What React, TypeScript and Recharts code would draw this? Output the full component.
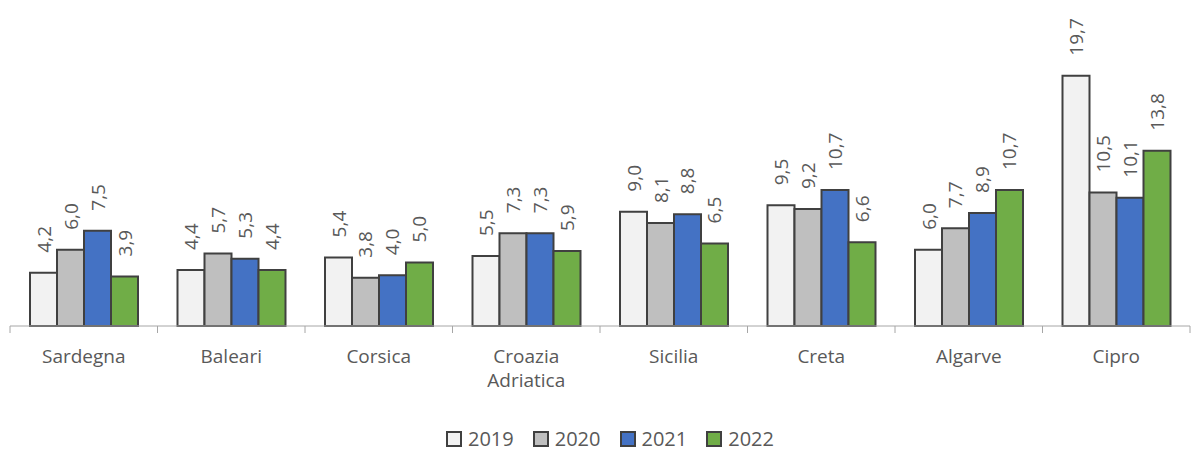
import React from 'react';
import { BarChart, Bar, XAxis, YAxis, Legend, LabelList } from 'recharts';

const categories = ['Sardegna', 'Baleari', 'Corsica', 'Croazia\nAdriatica', 'Sicilia', 'Creta', 'Algarve', 'Cipro'];
const v2019 = [4.2, 4.4, 5.4, 5.5, 9.0, 9.5, 6.0, 19.7];
const v2020 = [6.0, 5.7, 3.8, 7.3, 8.1, 9.2, 7.7, 10.5];
const v2021 = [7.5, 5.3, 4.0, 7.3, 8.8, 10.7, 8.9, 10.1];
const v2022 = [3.9, 4.4, 5.0, 5.9, 6.5, 6.6, 10.7, 13.8];

const series = [
  { key: 'y2019', name: '2019', color: '#f2f2f2' },
  { key: 'y2020', name: '2020', color: '#bfbfbf' },
  { key: 'y2021', name: '2021', color: '#4472c4' },
  { key: 'y2022', name: '2022', color: '#70ad47' },
];

const data = categories.map((c, i) => ({
  name: c,
  y2019: v2019[i],
  y2020: v2020[i],
  y2021: v2021[i],
  y2022: v2022[i],
}));

const FONT = '"Open Sans", sans-serif';
const TEXT = '#595959';
const BAND = 147.5;

const fmt = (v: number) => v.toFixed(1).replace('.', ',');

const BarLabel = (props: any) => {
  const { x, y, width, value } = props;
  const cx = x + width / 2;
  const cy = y - 20;
  return (
    <text
      x={cx}
      y={cy}
      transform={`rotate(-90 ${cx} ${cy})`}
      textAnchor="start"
      dominantBaseline="central"
      fontSize={19}
      fontFamily={FONT}
      fill={TEXT}
    >
      {fmt(value)}
    </text>
  );
};

const CatTick = (props: any) => {
  const { x, y, payload, index } = props;
  const lines = String(payload.value).split('\n');
  return (
    <g>
      <line x1={x - BAND / 2} y1={y - 8} x2={x - BAND / 2} y2={y - 1} stroke="#a6a6a6" />
      {index === categories.length - 1 && (
        <line x1={x + BAND / 2} y1={y - 8} x2={x + BAND / 2} y2={y - 1} stroke="#a6a6a6" />
      )}
      {lines.map((l, i) => (
        <text
          key={i}
          x={x}
          y={y + 29 + i * 24}
          textAnchor="middle"
          fontSize={19}
          fontFamily={FONT}
          fill={TEXT}
        >
          {l}
        </text>
      ))}
    </g>
  );
};

const LegendContent = () => (
  <div
    style={{
      display: 'flex',
      justifyContent: 'center',
      alignItems: 'center',
      fontFamily: FONT,
      fontSize: 20,
      lineHeight: '28px',
      height: 28,
      color: TEXT,
      paddingLeft: 39,
    }}
  >
    {series.map((s) => (
      <div key={s.key} style={{ display: 'flex', alignItems: 'center', marginRight: 19, whiteSpace: 'nowrap' }}>
        <span
          style={{
            display: 'inline-block',
            width: 12,
            height: 12,
            background: s.color,
            border: '2px solid #404040',
            marginRight: 6,
          }}
        />
        <span>{s.name}</span>
      </div>
    ))}
  </div>
);

export default function App() {
  return (
    <div style={{ position: 'absolute', left: 0, top: 0, width: 1192, height: 450, background: '#fff' }}>
      <BarChart
        width={1192}
        height={450}
        data={data}
        margin={{ top: 21, right: 2, bottom: 0, left: 10 }}
        barCategoryGap={20}
        barGap={0}
      >
        <XAxis
          dataKey="name"
          axisLine={{ stroke: '#a6a6a6' }}
          tickLine={false}
          tick={<CatTick />}
          interval={0}
          height={96}
        />
        <YAxis hide domain={[0, 24]} />
        <Legend
          verticalAlign="bottom"
          content={<LegendContent />}
          wrapperStyle={{ bottom: -3, height: 28, lineHeight: '28px' }}
        />
        {series.map((s) => (
          <Bar
            key={s.key}
            dataKey={s.key}
            name={s.name}
            fill={s.color}
            stroke="#404040"
            strokeWidth={2}
            isAnimationActive={false}
          >
            <LabelList dataKey={s.key} content={<BarLabel />} />
          </Bar>
        ))}
      </BarChart>
    </div>
  );
}
